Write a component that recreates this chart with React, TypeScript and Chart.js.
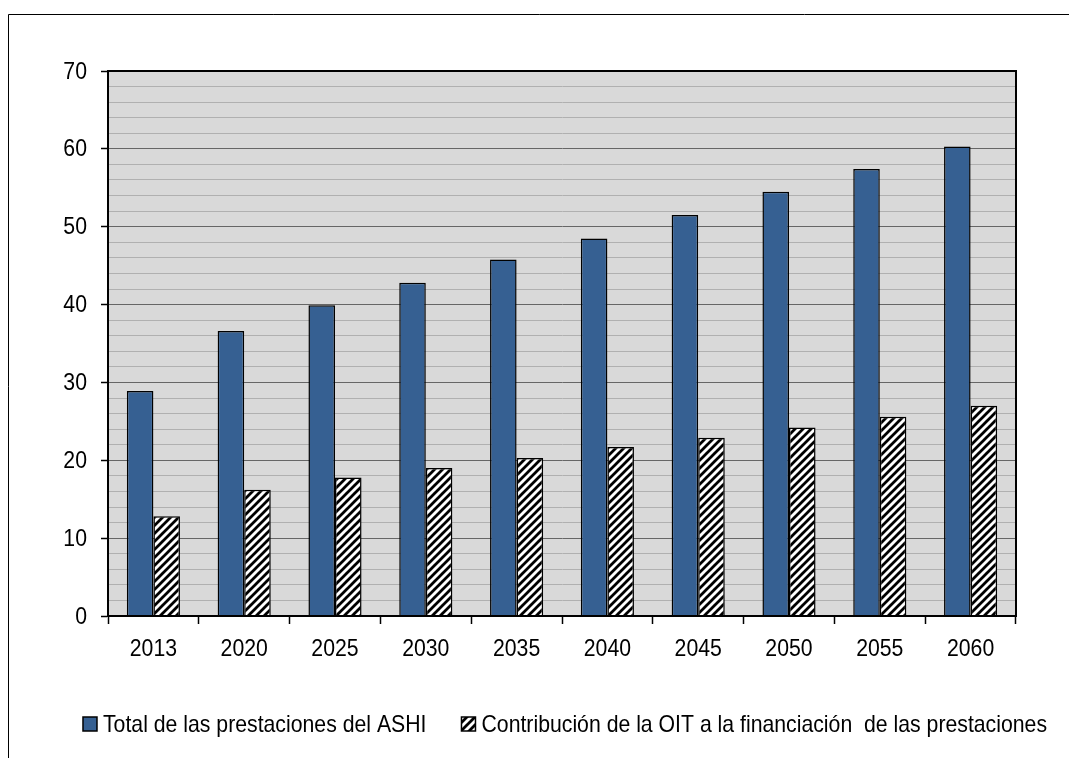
import React, { useEffect, useRef } from 'react';
import { Chart, registerables } from 'chart.js';

Chart.register(...registerables);

const years = ['2013', '2020', '2025', '2030', '2035', '2040', '2045', '2050', '2055', '2060'];
const totalASHI = [28.9, 36.6, 39.9, 42.8, 45.8, 48.5, 51.5, 54.5, 57.4, 60.3];
const contribOIT = [12.8, 16.2, 17.8, 19.0, 20.3, 21.7, 22.9, 24.2, 25.6, 27.0];
const seriesLabels = [
  'Total de las prestaciones del ASHI',
  'Contribución de la OIT a la financiación  de las prestaciones',
];
const yMin = 0;
const yMax = 70;
const yStep = 2;
const yLabelStep = 10;

const FONT = '"Liberation Sans", Arial, sans-serif';
const FONT_SIZE = 24;
const NARROW = 0.885;
const BLUE = '#366092';
const W = 1069;
const H = 758;

function makeHatch(): CanvasPattern | string {
  const c = document.createElement('canvas');
  const s = 8;
  c.width = s;
  c.height = s;
  const g = c.getContext('2d');
  if (!g) return '#ffffff';
  g.fillStyle = '#ffffff';
  g.fillRect(0, 0, s, s);
  g.strokeStyle = '#000000';
  g.lineWidth = 2.8;
  g.lineCap = 'square';
  g.beginPath();
  g.moveTo(-2, s + 2);
  g.lineTo(s + 2, -2);
  g.moveTo(-2, 2);
  g.lineTo(2, -2);
  g.moveTo(s - 2, s + 2);
  g.lineTo(s + 2, s - 2);
  g.stroke();
  const p = g.createPattern(c, 'repeat');
  return p || '#ffffff';
}

function narrowText(ctx: CanvasRenderingContext2D, text: string, x: number, y: number, align: CanvasTextAlign) {
  ctx.save();
  ctx.translate(x, y);
  ctx.scale(NARROW, 1);
  ctx.textAlign = align;
  ctx.fillText(text, 0, 0);
  ctx.restore();
}

const framePlugin = {
  id: 'frameAndBg',
  beforeDraw(chart: any) {
    const { ctx, chartArea, width, height } = chart;
    ctx.save();
    ctx.fillStyle = '#ffffff';
    ctx.fillRect(0, 0, width, height);
    ctx.strokeStyle = '#000000';
    ctx.lineWidth = 1;
    ctx.beginPath();
    ctx.moveTo(8.5, height + 5);
    ctx.lineTo(8.5, 14.5);
    ctx.lineTo(width + 5, 14.5);
    ctx.stroke();
    ctx.fillStyle = '#d9d9d9';
    ctx.fillRect(chartArea.left, chartArea.top, chartArea.right - chartArea.left, chartArea.bottom - chartArea.top);
    ctx.restore();
  },
  afterDraw(chart: any) {
    const { ctx, chartArea } = chart;
    ctx.save();
    ctx.strokeStyle = '#000000';
    ctx.lineWidth = 2;
    ctx.strokeRect(chartArea.left, chartArea.top, chartArea.right - chartArea.left, chartArea.bottom - chartArea.top);

    ctx.font = `${FONT_SIZE}px ${FONT}`;
    ctx.textBaseline = 'middle';
    ctx.fillStyle = '#000000';

    // y tick labels
    const ys = chart.scales.y;
    ys.ticks.forEach((t: any, i: number) => {
      if (t.value % yLabelStep !== 0) return;
      narrowText(ctx, String(t.value), chartArea.left - 21, ys.getPixelForTick(i) + 1, 'right');
    });
    // x tick labels
    const xs = chart.scales.x;
    xs.ticks.forEach((t: any, i: number) => {
      const lbl = chart.data.labels[i];
      narrowText(ctx, String(lbl), xs.getPixelForTick(i), chartArea.bottom + 33, 'center');
    });

    // legend
    const box = 14;
    const gapText = 6;
    const gapItem = 35;
    const items = chart.data.datasets.map((ds: any) => ({
      label: ds.label as string,
      fill: ds.backgroundColor,
      w: ctx.measureText(ds.label).width * NARROW,
    }));
    const total =
      items.reduce((s: number, it: any) => s + box + gapText + it.w, 0) + gapItem * (items.length - 1);
    let x = (chartArea.left + chartArea.right) / 2 + 3 - total / 2;
    const y = chartArea.bottom + 108;
    items.forEach((it: any) => {
      ctx.fillStyle = it.fill;
      ctx.fillRect(x, y - box / 2, box, box);
      ctx.lineWidth = 1.5;
      ctx.strokeStyle = '#000000';
      ctx.strokeRect(x, y - box / 2, box, box);
      ctx.fillStyle = '#000000';
      narrowText(ctx, it.label, x + box + gapText, y + 1, 'left');
      x += box + gapText + it.w + gapItem;
    });
    ctx.restore();
  },
};

export default function App() {
  const ref = useRef<HTMLCanvasElement | null>(null);

  useEffect(() => {
    if (!ref.current) return;
    const hatch = makeHatch();
    const chart = new Chart(ref.current, {
      type: 'bar',
      data: {
        labels: years,
        datasets: [
          {
            label: seriesLabels[0],
            data: totalASHI,
            backgroundColor: BLUE,
            borderColor: '#000000',
            borderWidth: 1.5,
            categoryPercentage: 0.585,
            barPercentage: 1,
          },
          {
            label: seriesLabels[1],
            data: contribOIT,
            backgroundColor: hatch as any,
            borderColor: '#000000',
            borderWidth: 1.5,
            categoryPercentage: 0.585,
            barPercentage: 1,
          },
        ],
      },
      options: {
        animation: false,
        responsive: false,
        maintainAspectRatio: false,
        layout: { padding: { left: 38, top: 71, right: 53, bottom: 82 } },
        plugins: {
          legend: { display: false },
          tooltip: { enabled: false },
          title: { display: false },
        },
        scales: {
          x: {
            afterFit: (s: any) => {
              s.height = 60;
            },
            grid: {
              display: true,
              drawOnChartArea: false,
              drawTicks: true,
              tickLength: 8,
              tickColor: '#000000',
              tickWidth: 1.5,
              offset: true,
            },
            border: { display: true, color: '#000000', width: 2 },
            ticks: {
              color: 'rgba(0,0,0,0)',
              padding: 10,
              font: { family: FONT, size: FONT_SIZE },
              maxRotation: 0,
              autoSkip: false,
            },
          },
          y: {
            min: yMin,
            max: yMax,
            afterFit: (s: any) => {
              s.width = 70;
            },
            grid: {
              display: true,
              drawTicks: true,
              tickLength: 7,
              lineWidth: 1,
              color: (c: any) => (c.tick && c.tick.value % yLabelStep === 0 ? '#666666' : '#b0b0b0'),
              tickColor: (c: any) => (c.tick && c.tick.value % yLabelStep === 0 ? '#000000' : 'rgba(0,0,0,0)'),
              tickWidth: 1.5,
            },
            border: { display: true, color: '#000000', width: 2 },
            ticks: {
              stepSize: yStep,
              autoSkip: false,
              color: 'rgba(0,0,0,0)',
              padding: 14,
              font: { family: FONT, size: 12 },
              callback: (v: any) => (Number(v) % yLabelStep === 0 ? String(v) : ''),
            },
          },
        },
      } as any,
      plugins: [framePlugin],
    });
    return () => chart.destroy();
  }, []);

  return (
    <div style={{ position: 'absolute', left: 0, top: 0, width: W, height: H, overflow: 'hidden' }}>
      <canvas ref={ref} width={W} height={H} style={{ display: 'block', width: W, height: H }} />
    </div>
  );
}
